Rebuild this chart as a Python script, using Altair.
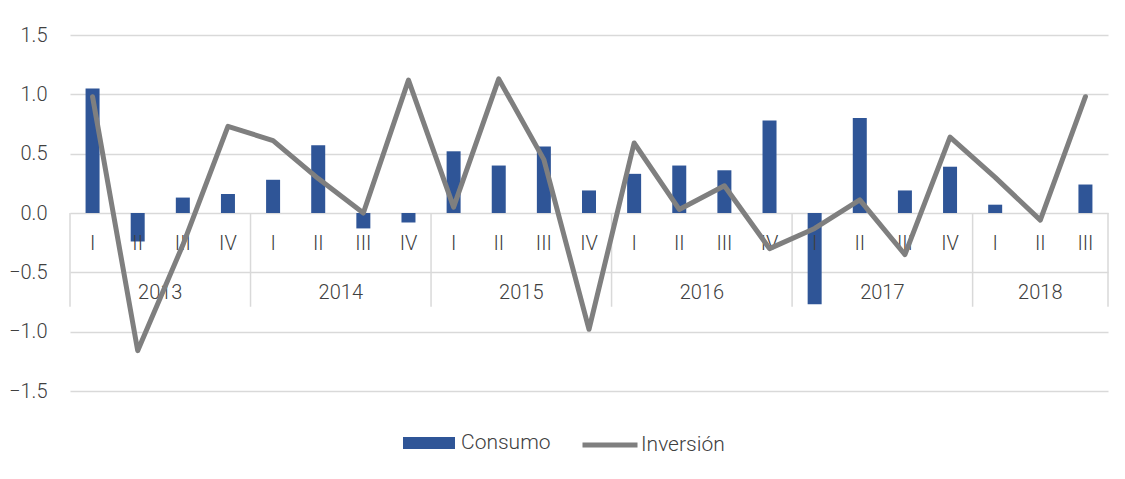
import altair as alt
import pandas as pd

years = ["2013"] * 4 + ["2014"] * 4 + ["2015"] * 4 + ["2016"] * 4 + ["2017"] * 4 + ["2018"] * 3
quarters = ["I", "II", "III", "IV"] * 5 + ["I", "II", "III"]
consumo = [1.05, -0.24, 0.13, 0.16, 0.28, 0.57, -0.13, -0.08,
           0.52, 0.40, 0.56, 0.19, 0.33, 0.40, 0.36, 0.78,
           -0.77, 0.80, 0.19, 0.39, 0.07, 0.0, 0.24]
inversion = [0.98, -1.16, -0.27, 0.73, 0.61, 0.29, 0.0, 1.12,
             0.05, 1.13, 0.45, -0.98, 0.59, 0.03, 0.23, -0.30,
             -0.13, 0.11, -0.35, 0.64, 0.30, -0.06, 0.98]
y_ticks = [-1.5, -1.0, -0.5, 0.0, 0.5, 1.0, 1.5]

idx = list(range(len(quarters)))
df = pd.DataFrame({"idx": idx, "year": years, "q": quarters,
                   "Consumo": consumo, "Inversion": inversion})
df["s1"] = "Consumo"
df["s2"] = "Inversión"

bounds = [i - 0.5 for i in idx if i == 0 or years[i] != years[i - 1]] + [idx[-1] + 0.5]
bdf = pd.DataFrame({"b": bounds})

FONT = "Roboto"
TXT = "#404040"
GRID = "#D9D9D9"

xscale = alt.Scale(domain=[-0.5, len(idx) - 0.5], nice=False, zero=False, padding=0)
yscale = alt.Scale(domain=[-1.5, 1.5], nice=False)
yaxis = alt.Axis(values=y_ticks, format=".1f", grid=True, gridColor=GRID,
                 gridWidth=1.5, domain=False, ticks=False, labelPadding=23,
                 labelFont=FONT, labelFontSize=20, labelFontWeight=300,
                 labelColor=TXT, minExtent=62, maxExtent=62, title=None)

bars = alt.Chart(df).mark_bar(size=14).encode(
    x=alt.X("idx:Q", scale=xscale, axis=None),
    y=alt.Y("Consumo:Q", scale=yscale, axis=yaxis),
    color=alt.Color("s1:N", scale=alt.Scale(domain=["Consumo"], range=["#2F5597"]),
                    legend=alt.Legend(title=None, orient="none", legendX=333, legendY=382,
                                      symbolType="M-1,-0.23H1V0.23H-1Z", symbolSize=2704,
                                      symbolStrokeWidth=0, symbolOpacity=1,
                                      labelFont=FONT, labelFontSize=21, labelFontWeight=300,
                                      labelColor=TXT, labelOffset=6)),
)

line = alt.Chart(df).mark_line(strokeWidth=5, strokeJoin="round", strokeCap="round").encode(
    x=alt.X("idx:Q", scale=xscale, axis=None),
    y=alt.Y("Inversion:Q", scale=yscale, axis=yaxis),
    color=alt.Color("s2:N", scale=alt.Scale(domain=["Inversión"], range=["#7F7F7F"]),
                    legend=alt.Legend(title=None, orient="none", legendX=510, legendY=380,
                                      symbolType="stroke", symbolSize=3025,
                                      symbolStrokeWidth=5, symbolOpacity=1,
                                      labelFont=FONT, labelFontSize=21, labelFontWeight=300,
                                      labelColor=TXT, labelOffset=1)),
)

qlabels = alt.Chart(df).mark_text(font=FONT, fontSize=20, fontWeight=300, color=TXT,
                                  baseline="middle").encode(
    x=alt.X("idx:Q", scale=xscale, axis=None),
    y=alt.value(209),
    text="q:N",
)

ylabels = alt.Chart(df).transform_aggregate(mid="mean(idx)", groupby=["year"]).mark_text(
    font=FONT, fontSize=20, fontWeight=300, color=TXT, baseline="middle").encode(
    x=alt.X("mid:Q", scale=xscale, axis=None),
    y=alt.value(258),
    text="year:N",
)

seps = alt.Chart(bdf).transform_calculate(base="0", base2="-0.79").mark_rule(
    color=GRID, strokeWidth=1.5).encode(
    x=alt.X("b:Q", scale=xscale, axis=None),
    y=alt.Y("base:Q", scale=yscale, axis=yaxis),
    y2="base2:Q",
)

chart = alt.layer(seps, bars, qlabels, ylabels, line).resolve_scale(
    color="independent"
).properties(
    width=1038, height=356,
    padding={"left": 0, "top": 17, "right": 5, "bottom": 5},
).configure_view(stroke=None)

chart.save("out.html", embed_options={"renderer": "svg", "actions": False})
